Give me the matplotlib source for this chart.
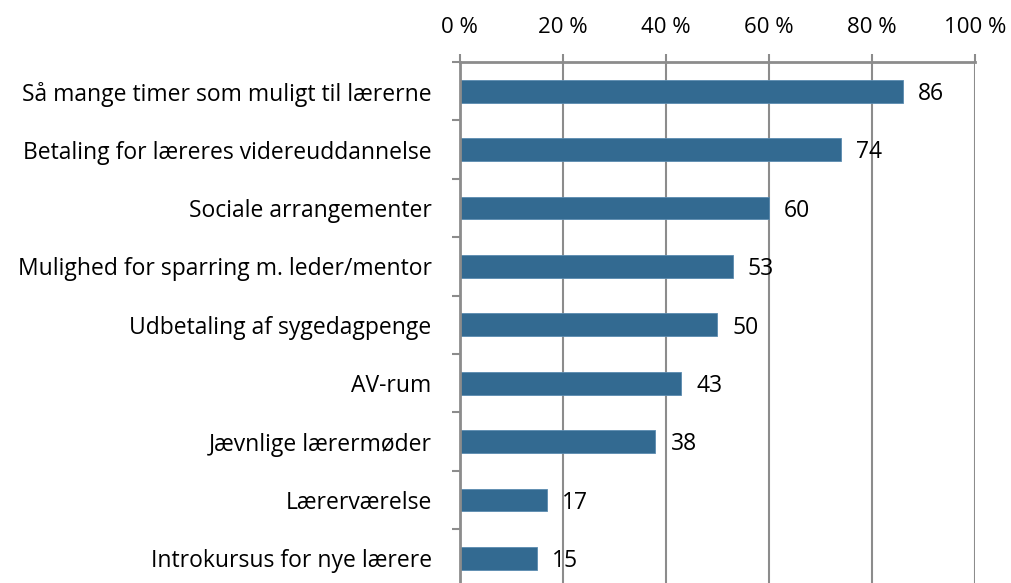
import matplotlib
matplotlib.use("Agg")
import matplotlib.pyplot as plt
import numpy as np

categories = [
    "Så mange timer som muligt til lærerne",
    "Betaling for læreres videreuddannelse",
    "Sociale arrangementer",
    "Mulighed for sparring m. leder/mentor",
    "Udbetaling af sygedagpenge",
    "AV-rum",
    "Jævnlige lærermøder",
    "Lærerværelse",
    "Introkursus for nye lærere",
]
values = [86, 74, 60, 53, 50, 43, 38, 17, 15]
xticks = [0, 20, 40, 60, 80, 100]
xtick_labels = ["0 %", "20 %", "40 %", "60 %", "80 %", "100 %"]

plt.rcParams['font.family'] = ['Open Sans', 'DejaVu Sans']
W, H = 1011, 583
dpi = 100
fig = plt.figure(figsize=(W / dpi, H / dpi), dpi=dpi)

left_px, right_px = 459.5, 975
top_px = 62
n = len(categories)
spacing = 58.4
bottom_px = top_px + spacing * n
ax = fig.add_axes([left_px / W, 1 - bottom_px / H, (right_px - left_px) / W, (bottom_px - top_px) / H])

grid_c = "#8c8c8c"
bar_c = "#336a91"
fs = 16.5
y = np.arange(n)
ax.barh(y, values, height=0.39, color=bar_c, edgecolor="#5b8bb0", linewidth=0.6, zorder=3)
ax.set_xlim(0, 100)
ax.set_ylim(n - 0.5, -0.5)

ax.xaxis.tick_top()
ax.set_xticks(xticks)
ax.set_xticklabels(xtick_labels, fontsize=16)
ax.tick_params(axis='x', which='both', length=6, width=1.5, color=grid_c, pad=11)

ax.set_yticks(y)
ax.set_yticklabels(categories, fontsize=fs)
ax.tick_params(axis='y', which='major', length=0, pad=20)
ax.set_yticks(np.arange(n + 1) - 0.5, minor=True)
ax.tick_params(axis='y', which='minor', length=6, width=1.5, color=grid_c)

ax.grid(axis='x', color=grid_c, linewidth=1.5, zorder=0)
for s in ['right', 'bottom']:
    ax.spines[s].set_visible(False)
for s in ['top', 'left']:
    ax.spines[s].set_color(grid_c)
    ax.spines[s].set_linewidth(2)
    ax.spines[s].set_zorder(4)

for yi, v in zip(y, values):
    ax.annotate(str(v), (v, yi), xytext=(11, -2), textcoords='offset points',
                ha='left', va='center', fontsize=fs, zorder=5)

fig.savefig("out.png", dpi=dpi)
